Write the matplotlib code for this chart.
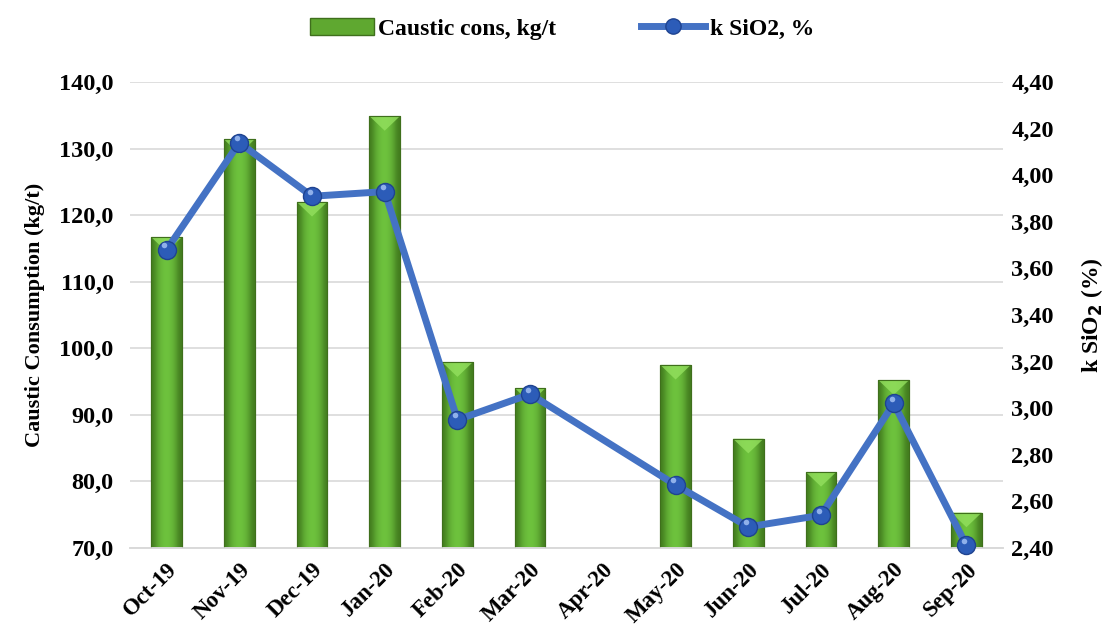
import matplotlib.pyplot as plt
import numpy as np
from matplotlib.lines import Line2D
from matplotlib.patches import Patch

plt.rcParams['font.family'] = ['Liberation Serif', 'DejaVu Serif']
plt.rcParams['font.weight'] = 'bold'

months = ['Oct-19', 'Nov-19', 'Dec-19', 'Jan-20', 'Feb-20', 'Mar-20',
          'Apr-20', 'May-20', 'Jun-20', 'Jul-20', 'Aug-20', 'Sep-20']
caustic = [116.7, 131.4, 122.0, 134.9, 97.9, 94.0,
           np.nan, 97.5, 86.4, 81.4, 95.2, 75.3]
k_sio2 = [3.68, 4.14, 3.91, 3.93, 2.95, 3.06,
          np.nan, 2.67, 2.49, 2.54, 3.02, 2.41]

fig = plt.figure(figsize=(11.13, 6.37), dpi=100)
ax = fig.add_axes([0.117, 0.140, 0.784, 0.731])
ax2 = ax.twinx()

x = np.arange(len(months))
caus = np.array(caustic)
has_bar = ~np.isnan(caus)

# bars with a simple horizontal gradient to look like the bevelled Excel bars
bars = ax.bar(x[has_bar], caus[has_bar] - 70, bottom=70, width=0.42,
              color='#5fa830', edgecolor='#3f6f1c', linewidth=0.8, zorder=2)
grad = np.array([[0.0, 0.6, 0.9, 1.0, 0.9, 0.6, 0.0]])
cmap = plt.matplotlib.colors.LinearSegmentedColormap.from_list(
    'g', ['#437d1f', '#6fc43e'])
for b in bars:
    x0, y0 = b.get_x(), b.get_y()
    w, h = b.get_width(), b.get_height()
    im = ax.imshow(grad, cmap=cmap, aspect='auto', extent=[x0, x0 + w, y0, y0 + h],
                   zorder=2.5, interpolation='bicubic')
    im.set_clip_path(b)
    # lighter bevel at the top
    tri = plt.Polygon([[x0, y0 + h], [x0 + w, y0 + h], [x0 + w / 2, y0 + h - 2.2]],
                      closed=True, color='#93e05e', alpha=0.8, zorder=2.6, lw=0)
    ax.add_patch(tri)
    ax.add_patch(plt.Rectangle((x0, y0), w, h, fill=False, edgecolor='#3f6f1c',
                               lw=0.8, zorder=2.7))

ax.set_xlim(-0.5, len(months) - 0.5)
ax.set_ylim(70, 140)
ax.set_yticks(np.arange(70, 141, 10))
ax.set_yticklabels([f'{v:.1f}'.replace('.', ',') for v in np.arange(70, 141, 10)])
ax.yaxis.grid(True, color='#d9d9d9', lw=1.2, zorder=0)
ax.set_axisbelow(True)
ax.set_xticks(x)
ax.set_xticklabels(months, rotation=45, ha='right', rotation_mode='anchor')
ax.tick_params(axis='x', length=0, labelsize=16.5, pad=8)
ax.tick_params(axis='y', length=0, labelsize=17.5, pad=12)
ax.set_ylabel('Caustic Consumption (kg/t)', fontsize=16, fontweight='bold', labelpad=10)

k = np.array(k_sio2)
ok = ~np.isnan(k)
ax2.plot(x[ok], k[ok], color='#4472c4', lw=5, zorder=3,
         marker='o', markersize=13, markerfacecolor='#2c5cb8',
         markeredgecolor='#1f4390', markeredgewidth=1, clip_on=False)
ax2.plot(x[ok] - 0.03, k[ok] + 0.02, ls='none', marker='o', markersize=4,
         markerfacecolor='#8fb0ea', markeredgewidth=0, zorder=4, clip_on=False)
ax2.set_ylim(2.40, 4.40)
rt = np.arange(2.40, 4.41, 0.20)
ax2.set_yticks(rt)
ax2.set_yticklabels([f'{v:.2f}'.replace('.', ',') for v in rt])
ax2.tick_params(axis='y', length=0, labelsize=17.5, pad=6)
ax2.set_ylabel(r'k SiO$_2$ (%)', fontsize=17, fontweight='bold', labelpad=18)

for a in (ax, ax2):
    for s in ('top', 'left', 'right'):
        a.spines[s].set_visible(False)
    a.spines['bottom'].set_color('#d9d9d9')
    a.spines['bottom'].set_linewidth(1.2)

handles = [Patch(facecolor='#5fa830', edgecolor='#3f6f1c'),
           Line2D([], [], color='#4472c4', lw=5, marker='o', markersize=11,
                  markerfacecolor='#2c5cb8', markeredgecolor='#1f4390')]
fig.legend(handles, ['Caustic cons, kg/t', 'k SiO2, %'], loc='upper center',
           bbox_to_anchor=(0.505, 1.005), ncol=2, frameon=False, fontsize=17,
           columnspacing=3.6, handlelength=2.7, handletextpad=0.2)

fig.savefig('out.png', dpi=100)
